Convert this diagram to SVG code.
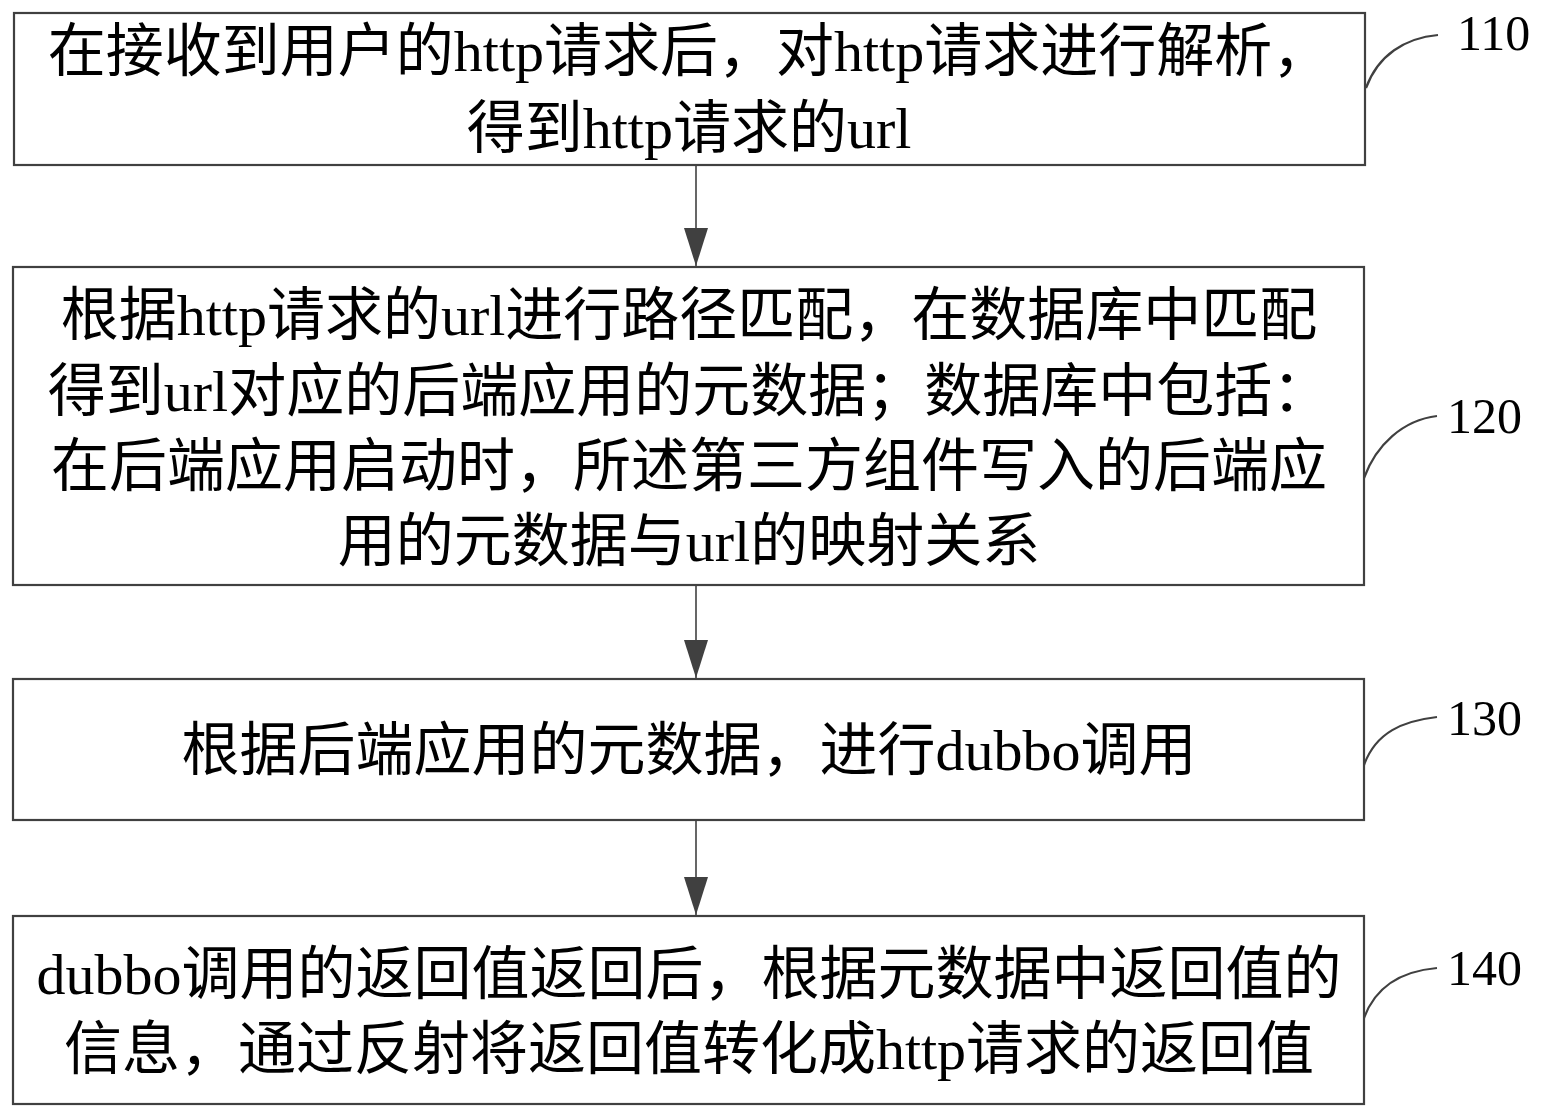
<svg xmlns="http://www.w3.org/2000/svg" width="1544" height="1119" viewBox="0 0 1544 1119">
<style>
.box{fill:#fff;stroke:#404040;stroke-width:2.2}
.t{font-family:"Liberation Serif","Noto Sans CJK SC",serif;font-size:58px;fill:#000;text-anchor:middle}
.lbl{font-family:"Liberation Serif",serif;font-size:50px;fill:#000}
.lead{fill:none;stroke:#404040;stroke-width:2.2}
.conn{fill:none;stroke:#404040;stroke-width:1.6}
</style>
<defs>
<marker id="ah" markerUnits="userSpaceOnUse" viewBox="0 -12 38 24" markerWidth="38" markerHeight="24" refX="38" refY="0" orient="auto">
<path d="M0,-12 L38,0 L0,12 Z" fill="#404040"/>
</marker>
</defs>
<rect width="1544" height="1119" fill="#fff"/>
<g id="connectors">
<path class="conn" d="M696,165 L696,266" marker-end="url(#ah)"/>
<path class="conn" d="M696,585 L696,678" marker-end="url(#ah)"/>
<path class="conn" d="M696,820 L696,915" marker-end="url(#ah)"/>
</g>
<g id="node110">
<rect class="box" x="14" y="13" width="1351" height="152"/>
<text class="t" x="689" y="71">在接收到用户的http请求后，对http请求进行解析，</text>
<text class="t" x="689" y="148">得到http请求的url</text>
<path class="lead" d="M1366,88 C1378,55 1405,38 1438,35"/>
<text class="lbl" x="1457" y="50">110</text>
</g>
<g id="node120">
<rect class="box" x="13" y="267" width="1351" height="318"/>
<text class="t" x="689" y="335">根据http请求的url进行路径匹配，在数据库中匹配</text>
<text class="t" x="689" y="411">得到url对应的后端应用的元数据；数据库中包括：</text>
<text class="t" x="689" y="486">在后端应用启动时，所述第三方组件写入的后端应</text>
<text class="t" x="689" y="561">用的元数据与url的映射关系</text>
<path class="lead" d="M1364,478 C1376,445 1403,420 1437,416"/>
<text class="lbl" x="1447" y="433">120</text>
</g>
<g id="node130">
<rect class="box" x="13" y="679" width="1351" height="141"/>
<text class="t" x="689" y="770">根据后端应用的元数据，进行dubbo调用</text>
<path class="lead" d="M1364,765 C1376,732 1403,721 1437,717"/>
<text class="lbl" x="1447" y="735">130</text>
</g>
<g id="node140">
<rect class="box" x="13" y="916" width="1351" height="188"/>
<text class="t" x="689" y="994">dubbo调用的返回值返回后，根据元数据中返回值的</text>
<text class="t" x="689" y="1069">信息，通过反射将返回值转化成http请求的返回值</text>
<path class="lead" d="M1364,1018 C1376,985 1403,971 1437,968"/>
<text class="lbl" x="1447" y="985">140</text>
</g>
</svg>
